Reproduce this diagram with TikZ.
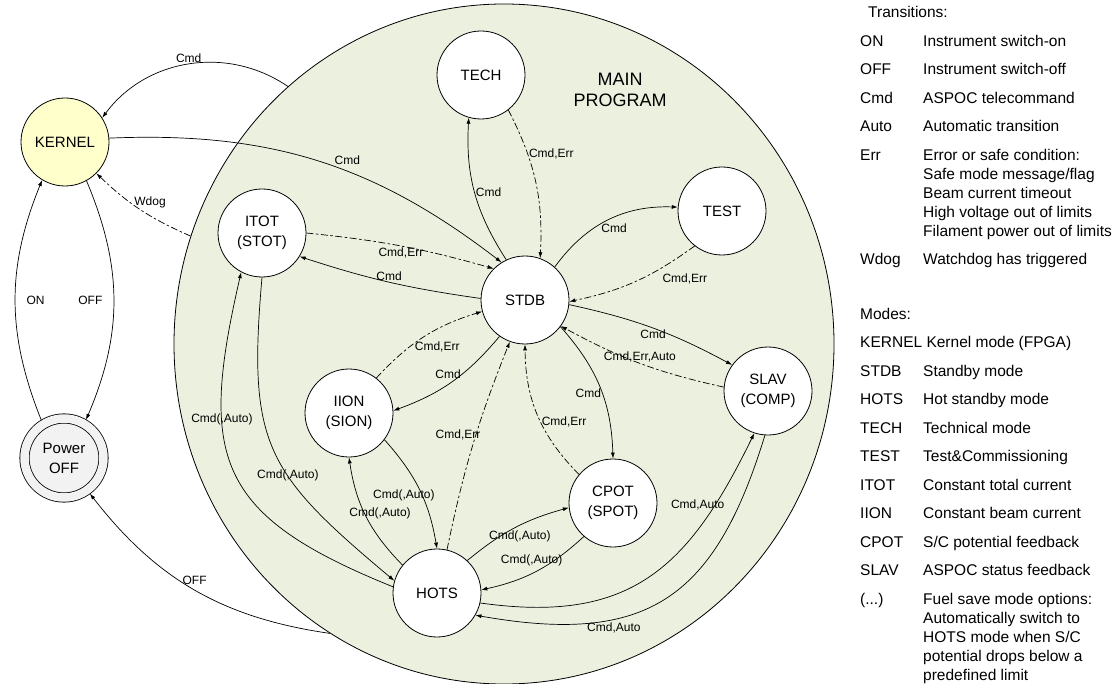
\documentclass[tikz,border=0pt]{standalone}
\usepackage{fontspec}
\setmainfont{Liberation Sans}
\usetikzlibrary{arrows.meta,positioning,shapes.geometric}
\definecolor{progfill}{RGB}{235,241,222}
\definecolor{kernfill}{RGB}{255,255,204}
\definecolor{offfill}{RGB}{242,242,242}
\newcommand{\statefont}{\fontsize{15}{20}\selectfont}
\newcommand{\edgefont}{\fontsize{12}{13}\selectfont}
\newcommand{\keyfont}{\fontsize{15.5}{19}\selectfont}

\begin{document}
\begin{tikzpicture}[
		x=1pt, y=-1pt,
		state/.style={circle, draw, line width=0.8pt, fill=white, minimum size=88pt, inner sep=0pt, align=center, font=\statefont},
		trans/.style={line width=0.7pt, -{Latex[length=6pt,width=4pt]}},
		errtrans/.style={trans, dash pattern=on 7pt off 2.5pt on 2.5pt off 2.5pt},
		lbl/.style={font=\edgefont, inner sep=1pt},
	]
		\useasboundingbox (0,0) rectangle (1115,684);
		\node[ellipse, draw, line width=0.8pt, fill=progfill, minimum width=660pt, minimum height=680pt, inner sep=0pt] (main) at (504,344) {};
		\node[align=center, font=\fontsize{18}{21}\selectfont] (title) at (620,90) {MAIN\\PROGRAM};

		\node[state, fill=kernfill] (kernel) at (65,142) {KERNEL};
		\node[state, fill=offfill, double=offfill, double distance=8.5pt, minimum size=79pt, outer sep=4.5pt] (poweroff) at (64,458) {Power\\OFF};
		\node[state] (tech) at (481,75) {TECH};
		\node[state] (stdb) at (525,300) {STDB};
		\node[state] (test) at (722,211) {TEST};
		\node[state] (slav) at (768,391) {SLAV\\(COMP)};
		\node[state] (itot) at (262,233) {ITOT\\(STOT)};
		\node[state] (iion) at (349,413) {IION\\(SION)};
		\node[state] (cpot) at (613,503) {CPOT\\(SPOT)};
		\node[state] (hots) at (437,593) {HOTS};

		\draw[trans] (main.130) to[bend right=44] node[lbl, above] (mkcmd) {Cmd} (kernel.33);
		\draw[trans] (kernel.5) to[bend left=20] node[lbl, pos=0.58, above=5pt] (kscmd) {Cmd} (stdb.122);
		\draw[errtrans] (main.161) to[bend left=10] node[lbl, pos=0.62, right=3pt] (wdog) {Wdog} (kernel.-45);
		\draw[trans] (kernel.-61) to[bend left=23] node[lbl, left=10pt] (kpoff) {OFF} (poweroff.60);
		\draw[trans] (poweroff.121) to[bend left=22] node[lbl, right=10pt] (pon) {ON} (kernel.-121);
		\draw[trans] (main.239) to[bend left=22] node[lbl, above=4pt] (mpoff) {OFF} (poweroff.-54);

		\draw[trans] (stdb.115) to[bend left=18] node[lbl, right] (stcmd) {Cmd} (tech.-106);
		\draw[errtrans] (tech.-52) to[bend left=15] node[lbl, pos=0.3, right] (tserr) {Cmd,Err} (stdb.70);
		\draw[trans] (stdb.48) to[bend left=28] node[lbl, pos=0.55, below=5pt] (sttcmd) {Cmd} (test.175);
		\draw[errtrans] (test.-128) to[bend left=12] node[lbl, pos=0.3, below right=4pt] (tterr) {Cmd,Err} (stdb.-2);
		\draw[trans] (stdb.-6) to[bend left=8] node[lbl, below] (sscmd) {Cmd} (slav.144);
		\draw[errtrans] (slav.175) to[bend left=8] node[lbl, above] (sserr) {Cmd,Err,Auto} (stdb.-36);
		\draw[trans] (stdb.-37) to[bend left=20] node[lbl, pos=0.55, left] (sccmd) {Cmd} (cpot.90);
		\draw[errtrans] (cpot.140) to[bend left=22] node[lbl, pos=0.45, right] (cserr) {Cmd,Err} (stdb.-90);
		\draw[errtrans] (hots.77) to[bend left=5] node[lbl, pos=0.55, xshift=-18pt] (hserr) {Cmd,Err} (stdb.-110);
		\draw[errtrans] (iion.52) to[bend left=15] node[lbl, pos=0.55, below=7pt, xshift=8pt] (iserr) {Cmd,Err} (stdb.195);
		\draw[trans] (stdb.-125) to[bend left=15] node[lbl, above, xshift=-4pt, yshift=2pt] (sicmd) {Cmd} (iion.3);
		\draw[errtrans] (itot.0) to[bend left=5] node[lbl, below] (iterr) {Cmd,Err} (stdb.135);
		\draw[trans] (stdb.178) to[bend left=5] node[lbl, above] (sitcmd) {Cmd} (itot.-32);

		\draw[trans] (hots.172) to[out=158, in=-103, looseness=1.4] node[lbl, pos=0.67] (hitauto) {Cmd(,Auto)} (itot.-118);
		\draw[trans] (itot.-90) to[out=-95, in=140, looseness=1.3] node[lbl, pos=0.6] (ithauto) {Cmd(,Auto)} (hots.164);
		\draw[trans] (iion.-37) to[bend left=16] node[lbl, pos=0.55, xshift=-18pt] (ihauto) {Cmd(,Auto)} (hots.90);
		\draw[trans] (hots.141) to[bend left=18] node[lbl, xshift=14pt, yshift=3pt] (hiauto) {Cmd(,Auto)} (iion.-90);
		\draw[trans] (hots.47) to[bend left=12] node[lbl, xshift=5pt, yshift=-9pt] (hcauto) {Cmd(,Auto)} (cpot.186);
		\draw[trans] (cpot.229) to[bend left=15] node[lbl, xshift=-5pt, yshift=11pt] (chauto) {Cmd(,Auto)} (hots.4);
		\draw[trans] (hots.-13) to[out=-8, in=-116, looseness=1.2] node[lbl, pos=0.8, xshift=-17pt] (hsauto) {Cmd,Auto} (slav.-108);
		\draw[trans] (slav.-94) to[out=-107, in=-10, looseness=1.3] node[lbl, pos=0.67, below=3pt] (shauto) {Cmd,Auto} (hots.-30);

		\node[anchor=base west, inner sep=0pt, font=\keyfont] (trkey) at (860,18) {%
			\begin{tabular}[t]{@{}p{63pt}@{}l@{}}
				\multicolumn{2}{@{}l@{}}{\hspace{8pt}Transitions:}\\[9.5pt]
				ON & Instrument switch-on\\[9.5pt]
				OFF & Instrument switch-off\\[9.5pt]
				Cmd & ASPOC telecommand\\[9.5pt]
				Auto & Automatic transition\\[9.5pt]
				Err & Error or safe condition:\\
				& Safe mode message/flag\\
				& Beam current timeout\\
				& High voltage out of limits\\
				& Filament power out of limits\\[9.5pt]
				Wdog & Watchdog has triggered
			\end{tabular}};
		\node[anchor=base west, inner sep=0pt, font=\keyfont] (modekey) at (860,319) {%
			\begin{tabular}[t]{@{}p{63pt}@{}l@{}}
				\multicolumn{2}{@{}l@{}}{Modes:}\\[9.5pt]
				\multicolumn{2}{@{}l@{}}{KERNEL Kernel mode (FPGA)}\\[9.5pt]
				STDB & Standby mode\\[9.5pt]
				HOTS & Hot standby mode\\[9.5pt]
				TECH & Technical mode\\[9.5pt]
				TEST & Test\&Commissioning\\[9.5pt]
				ITOT & Constant total current\\[9.5pt]
				IION & Constant beam current\\[9.5pt]
				CPOT & S/C potential feedback\\[9.5pt]
				SLAV & ASPOC status feedback\\[9.5pt]
				(...) & Fuel save mode options:\\
				& Automatically switch to\\
				& HOTS mode when S/C\\
				& potential drops below a\\
				& predefined limit
			\end{tabular}};
	\end{tikzpicture}
\end{document}
